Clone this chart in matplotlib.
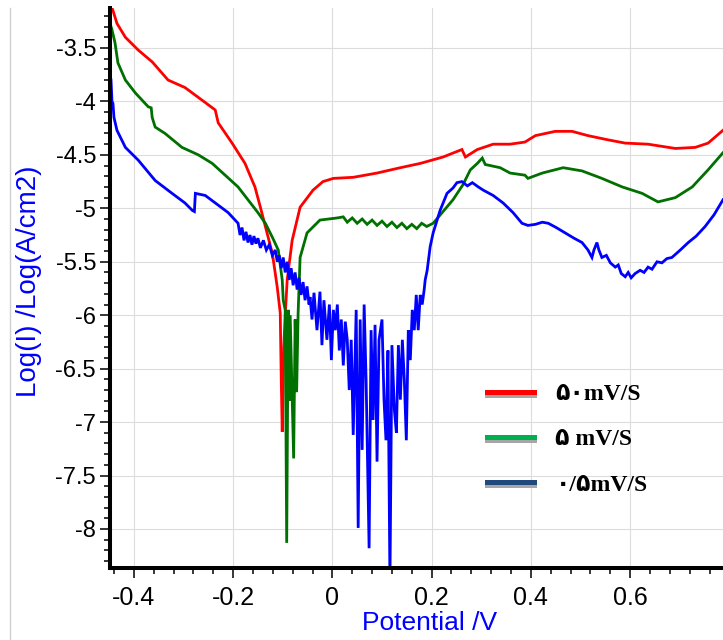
import numpy as np
import matplotlib
matplotlib.use('Agg')
import matplotlib.pyplot as plt
from matplotlib.lines import Line2D
from matplotlib.ticker import MultipleLocator, FuncFormatter
import matplotlib.patheffects as pe

plt.rcParams['font.family'] = ['Liberation Sans', 'DejaVu Sans']
plt.rcParams['axes.unicode_minus'] = False

# 50 mV/s  (potential V, log current)
red = [(-0.446, -3.10), (-0.442, -3.15), (-0.434, -3.27), (-0.417, -3.40), (-0.391, -3.52),
       (-0.363, -3.63), (-0.331, -3.80), (-0.297, -3.87), (-0.262, -3.99), (-0.236, -4.08),
       (-0.230, -4.20), (-0.202, -4.39), (-0.176, -4.58), (-0.156, -4.80), (-0.145, -4.99),
       (-0.135, -5.17), (-0.121, -5.42), (-0.115, -5.61), (-0.111, -5.74), (-0.105, -5.98),
       (-0.103, -6.60), (-0.101, -7.09), (-0.098, -6.30), (-0.095, -6.00), (-0.091, -5.67),
       (-0.081, -5.30), (-0.065, -4.99), (-0.039, -4.83), (-0.019, -4.75), (0.002, -4.72),
       (0.042, -4.71), (0.090, -4.67), (0.137, -4.62), (0.177, -4.58), (0.223, -4.52),
       (0.261, -4.45), (0.268, -4.52), (0.292, -4.45), (0.324, -4.40), (0.358, -4.40),
       (0.388, -4.38), (0.409, -4.32), (0.449, -4.28), (0.483, -4.28), (0.515, -4.32),
       (0.556, -4.36), (0.590, -4.39), (0.636, -4.40), (0.691, -4.44), (0.731, -4.43),
       (0.757, -4.39), (0.777, -4.31), (0.787, -4.27)]

# 5 mV/s
green = [(-0.446, -3.30), (-0.444, -3.33), (-0.438, -3.45), (-0.432, -3.64), (-0.417, -3.80),
         (-0.397, -3.92), (-0.371, -4.05), (-0.365, -4.06), (-0.363, -4.15), (-0.357, -4.24),
         (-0.337, -4.30), (-0.303, -4.43), (-0.270, -4.50), (-0.242, -4.58), (-0.216, -4.69),
         (-0.190, -4.80), (-0.170, -4.92), (-0.150, -5.04), (-0.135, -5.14), (-0.121, -5.27),
         (-0.109, -5.39), (-0.101, -5.67), (-0.099, -5.86), (-0.095, -5.95), (-0.092, -8.13),
         (-0.089, -5.95), (-0.087, -6.80), (-0.085, -6.00), (-0.078, -7.34), (-0.075, -6.04),
         (-0.072, -6.72), (-0.069, -5.98), (-0.065, -5.46), (-0.051, -5.23), (-0.025, -5.11),
         (0.010, -5.09), (0.022, -5.08), (0.030, -5.13), (0.040, -5.09), (0.050, -5.14),
         (0.060, -5.10), (0.070, -5.15), (0.080, -5.11), (0.090, -5.16), (0.100, -5.12),
         (0.110, -5.17), (0.120, -5.13), (0.130, -5.18), (0.140, -5.14), (0.150, -5.19),
         (0.160, -5.15), (0.170, -5.19), (0.180, -5.14), (0.190, -5.17), (0.203, -5.14),
         (0.223, -5.03), (0.243, -4.92), (0.263, -4.78), (0.278, -4.64), (0.292, -4.58),
         (0.302, -4.53), (0.308, -4.59), (0.338, -4.62), (0.358, -4.67), (0.388, -4.69),
         (0.394, -4.72), (0.423, -4.67), (0.465, -4.62), (0.503, -4.65), (0.543, -4.72),
         (0.584, -4.80), (0.624, -4.86), (0.656, -4.94), (0.691, -4.90), (0.725, -4.80),
         (0.757, -4.64), (0.787, -4.48)]

# 0.5 mV/s
blue = [(-0.446, -3.80), (-0.444, -4.00), (-0.442, -4.02), (-0.440, -4.15), (-0.434, -4.27),
        (-0.417, -4.43), (-0.391, -4.55), (-0.357, -4.74), (-0.323, -4.86), (-0.297, -4.95),
        (-0.282, -5.02), (-0.278, -5.03), (-0.276, -4.86), (-0.256, -4.88), (-0.236, -4.95),
        (-0.210, -5.04), (-0.190, -5.14), (-0.186, -5.25), (-0.182, -5.18), (-0.178, -5.30),
        (-0.174, -5.22), (-0.170, -5.32), (-0.166, -5.25), (-0.162, -5.34), (-0.158, -5.26),
        (-0.154, -5.33), (-0.150, -5.28), (-0.145, -5.37), (-0.139, -5.30), (-0.133, -5.39),
        (-0.127, -5.34), (-0.121, -5.44), (-0.115, -5.39), (-0.111, -5.50), (-0.107, -5.44),
        (-0.103, -5.56), (-0.099, -5.46), (-0.095, -5.60), (-0.091, -5.50), (-0.087, -5.67),
        (-0.083, -5.56), (-0.079, -5.72), (-0.075, -5.60), (-0.071, -5.76), (-0.067, -5.65),
        (-0.063, -5.81), (-0.059, -5.69), (-0.055, -5.86), (-0.051, -5.73), (-0.047, -5.90),
        (-0.045, -5.83), (-0.041, -6.04), (-0.037, -5.79), (-0.031, -6.14), (-0.025, -5.78),
        (-0.021, -6.28), (-0.017, -5.86), (-0.011, -6.23), (-0.006, -5.90), (-0.002, -6.42),
        (0.002, -5.95), (0.006, -6.14), (0.010, -5.90), (0.014, -6.33), (0.018, -6.04),
        (0.022, -6.47), (0.026, -6.06), (0.030, -6.23), (0.034, -6.70), (0.038, -6.23),
        (0.042, -7.12), (0.046, -6.33), (0.048, -5.95), (0.052, -7.99), (0.056, -6.04),
        (0.060, -7.26), (0.064, -5.90), (0.068, -6.61), (0.074, -8.18), (0.078, -6.14),
        (0.082, -6.98), (0.086, -6.09), (0.090, -7.37), (0.094, -6.23), (0.100, -6.04),
        (0.104, -6.79), (0.108, -7.17), (0.112, -6.33), (0.116, -8.50), (0.120, -6.28),
        (0.125, -6.89), (0.129, -7.10), (0.133, -6.28), (0.137, -6.79), (0.141, -6.23),
        (0.145, -6.61), (0.149, -7.17), (0.153, -6.14), (0.157, -6.42), (0.161, -5.95),
        (0.165, -6.14), (0.169, -5.81), (0.173, -6.14), (0.177, -5.81), (0.181, -5.90),
        (0.185, -5.76), (0.187, -5.67), (0.191, -5.58), (0.197, -5.36), (0.203, -5.23),
        (0.217, -5.02), (0.231, -4.86), (0.243, -4.81), (0.251, -4.76), (0.261, -4.75),
        (0.272, -4.79), (0.282, -4.76), (0.294, -4.80), (0.304, -4.83), (0.324, -4.88),
        (0.344, -4.95), (0.364, -5.04), (0.382, -5.14), (0.394, -5.16), (0.409, -5.15),
        (0.423, -5.13), (0.435, -5.14), (0.451, -5.18), (0.469, -5.23), (0.487, -5.28),
        (0.503, -5.32), (0.515, -5.39), (0.523, -5.46), (0.527, -5.39), (0.533, -5.32),
        (0.537, -5.39), (0.543, -5.46), (0.552, -5.44), (0.560, -5.51), (0.570, -5.55),
        (0.576, -5.53), (0.582, -5.61), (0.590, -5.64), (0.596, -5.60), (0.602, -5.65),
        (0.610, -5.61), (0.620, -5.58), (0.628, -5.60), (0.636, -5.55), (0.644, -5.57),
        (0.654, -5.50), (0.664, -5.51), (0.674, -5.47), (0.684, -5.46), (0.701, -5.39),
        (0.717, -5.32), (0.733, -5.26), (0.751, -5.17), (0.769, -5.06), (0.787, -4.92)]

legend_labels = ['\u06f5\u06f0mV/S', '\u06f5 mV/S', '\u06f0/\u06f5mV/S']
legend_colors = ['#ff0000', '#00b050', '#1f497d']

fig = plt.figure(figsize=(7.23, 6.40), dpi=100)
ax = fig.add_axes([110 / 723, 72 / 640, 613 / 723, 560 / 640])

for pts, col in [(red, '#ff0000'), (green, '#007000'), (blue, '#0000ff')]:
    px, py = np.array(pts).T
    ax.plot(px, py, color=col, lw=2.0, solid_joinstyle='miter')

ax.set_xlim(-0.448, 0.787)
ax.set_ylim(-8.365, -3.126)

ax.xaxis.set_major_locator(MultipleLocator(0.2))
ax.xaxis.set_minor_locator(MultipleLocator(0.04))
ax.yaxis.set_major_locator(MultipleLocator(0.5))
ax.yaxis.set_minor_locator(MultipleLocator(0.1))
fmt = FuncFormatter(lambda v, p: '%g' % round(v, 2))
ax.xaxis.set_major_formatter(fmt)
ax.yaxis.set_major_formatter(fmt)

for s in ['top', 'right']:
    ax.spines[s].set_visible(False)
for s in ['left', 'bottom']:
    ax.spines[s].set_linewidth(2.9)
ax.tick_params(which='major', direction='out', length=7, width=1.1)
ax.tick_params(which='minor', direction='out', length=4, width=1.1)
ax.tick_params(axis='x', labelsize=18, pad=6)
ax.tick_params(axis='y', labelsize=17, pad=3)
ax.grid(True, which='major', color='#dcdcdc', lw=0.8)
ax.set_axisbelow(True)

ax.set_xlabel('Potential /V', fontsize=19, color='#0000ff')
ax.xaxis.set_label_coords(0.522, -0.077)
ax.set_ylabel('Log(I) /Log(A/cm2)', fontsize=20, color='#0000ff')
ax.yaxis.set_label_coords(-0.111, 0.5125)

handles = [Line2D([], [], color=c, lw=3.6,
                  path_effects=[pe.SimpleLineShadow(offset=(0, -2.2), shadow_color='#a6a6a6', alpha=1.0),
                                pe.Normal()])
           for c in legend_colors]
ax.legend(handles, legend_labels, loc='upper left', bbox_to_anchor=(0.615, 0.329),
          frameon=False, borderpad=0, borderaxespad=0, handlelength=2.0, handletextpad=0.9,
          labelspacing=1.0,
          prop=dict(family=['Liberation Serif', 'DejaVu Sans'], weight='bold', size=17))

fig.add_artist(Line2D([10 / 723, 10 / 723], [0, 632 / 640], transform=fig.transFigure,
                      color='#d0d0d0', lw=1))

fig.savefig('out.png', dpi=100)
